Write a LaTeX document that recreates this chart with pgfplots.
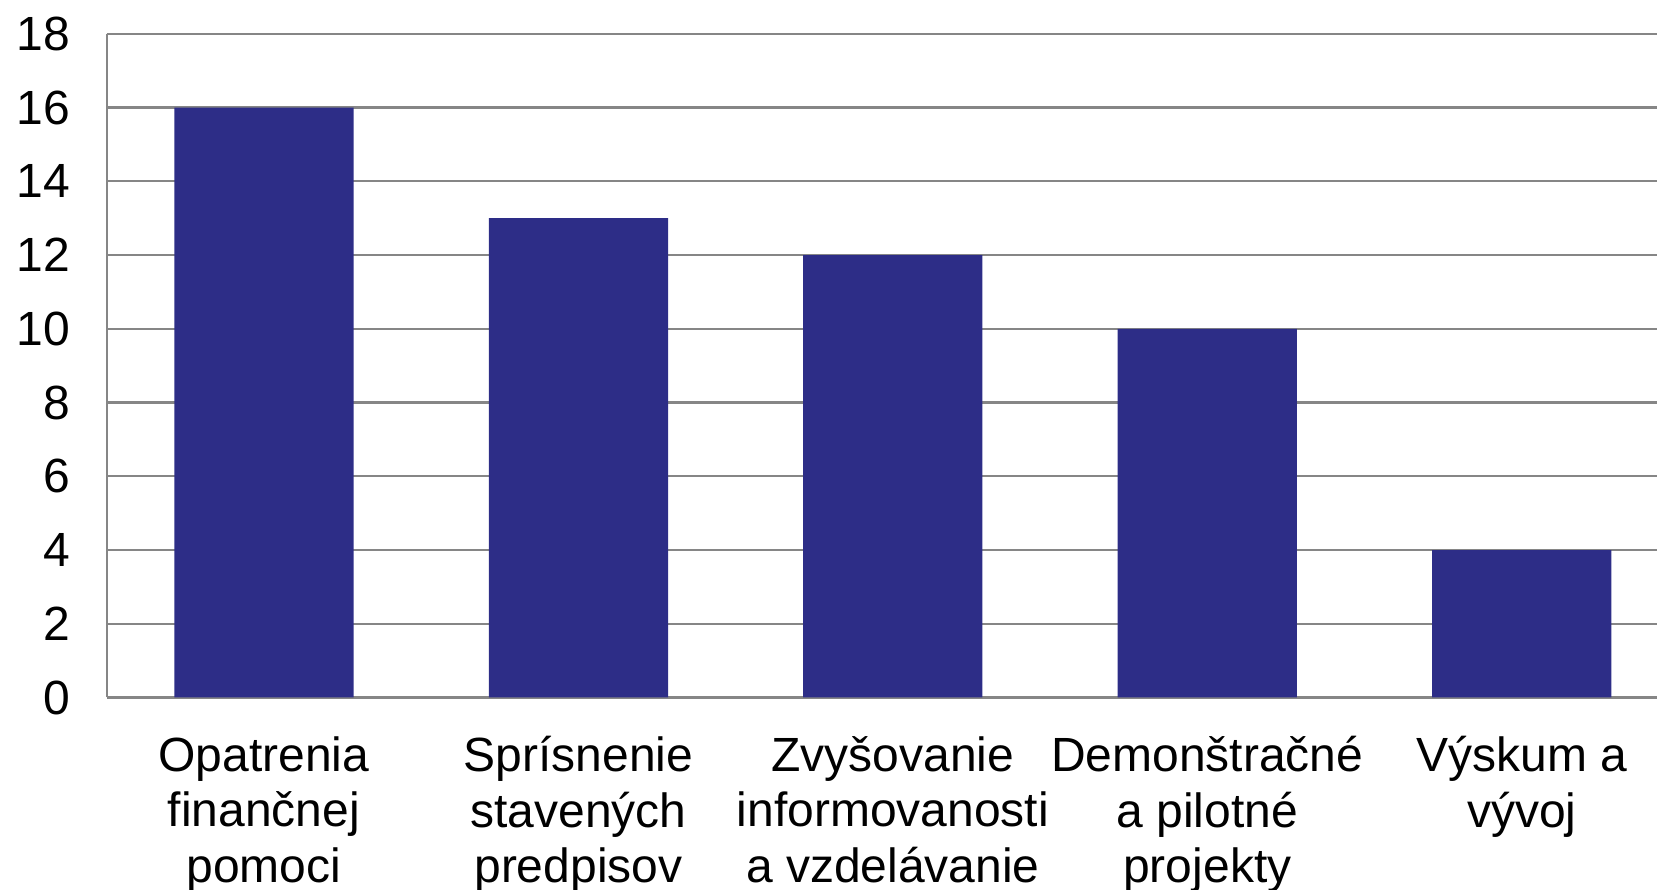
\documentclass[border=0pt]{standalone}
\usepackage{pgfplots}
\pgfplotsset{compat=1.18}
\usepackage{fontspec}
\setmainfont{Liberation Sans}
\definecolor{barblue}{RGB}{45,45,135}
\definecolor{gridgray}{RGB}{134,134,134}
\begin{document}
\begin{tikzpicture}
\begin{axis}[
  at={(0,0)}, anchor=south west,
  scale only axis,
  width=465.1pt, height=199.1pt,
  xmin=-0.5, xmax=4.43,
  ymin=0, ymax=18,
  ytick={0,2,...,18},
  xtick={0,1,2,3,4},
  xticklabels={{Opatrenia\\finančnej\\pomoci},{Sprísnenie\\stavených\\predpisov},{Zvyšovanie\\informovanosti\\a vzdelávanie},{Demonštračné\\a pilotné\\projekty},{Výskum a\\vývoj}},
  axis x line*=bottom, axis y line*=left,
  axis line style={gridgray, line width=0.65pt},
  major tick length=0pt,
  ymajorgrids,
  grid style={gridgray, line width=0.65pt},
  /pgf/number format/assume math mode=true,
  yticklabel style={font=\fontsize{14.4}{16.6}\selectfont, xshift=-7.4pt},
  xticklabel style={font=\fontsize{14.4}{16.6}\selectfont, align=center, yshift=-8.2pt},
  clip=false,
]
\addplot[ybar, bar width=0.57, fill=barblue, draw=none] coordinates {(0,16) (1,13) (2,12) (3,10) (4,4)};
\end{axis}
\pgfresetboundingbox
\path[use as bounding box] (-32.0pt,-57.75pt) rectangle (465.1pt,209.25pt);
\end{tikzpicture}
\end{document}
